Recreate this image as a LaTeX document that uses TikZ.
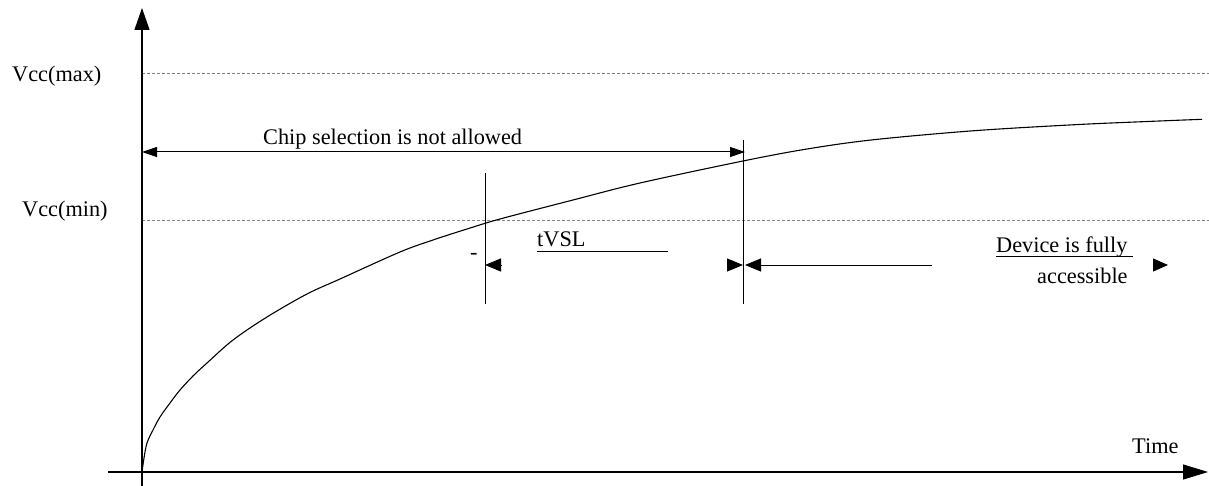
\documentclass[tikz,border=0pt]{standalone}
\usepackage{fontspec}
\setmainfont{Liberation Serif}
\usetikzlibrary{arrows.meta}
\begin{document}
\begin{tikzpicture}[x=1pt,y=-1pt,
  lbl/.style={inner sep=0pt,anchor=base west,font=\fontsize{22.3}{26}\selectfont},
  axis/.style={line width=1.2pt},
  thin/.style={line width=1pt},
  guide/.style={line width=0.9pt,gray,dash pattern=on 3pt off 2pt},
  bighead/.style={-{Triangle[length=22pt,width=15pt]}},
  midhead/.style={{Triangle[length=15pt,width=10pt]}-{Triangle[length=15pt,width=10pt]}},
  smallhead/.style={-{Triangle[length=16pt,width=13pt]}}]
\useasboundingbox (0,0) rectangle (1209,486);
% coordinates
\coordinate (ybot) at (142,486);
\coordinate (ytop) at (142,8);
\coordinate (xl) at (108,472);
\coordinate (xr) at (1208,472);
\coordinate (maxL) at (142,73);
\coordinate (maxR) at (1209,73);
\coordinate (minL) at (142,220);
\coordinate (minR) at (1209,220);
\coordinate (chipL) at (142,152);
\coordinate (chipR) at (745,152);
\coordinate (v1t) at (485,173);
\coordinate (v1b) at (485,304);
\coordinate (v2t) at (743,140);
\coordinate (v2b) at (743,304);
\coordinate (h1a) at (501,265);
\coordinate (h1b) at (485,265);
\coordinate (h2a) at (727,265);
\coordinate (h2b) at (743,265);
\coordinate (h3a) at (932,265);
\coordinate (h3b) at (745,265);
\coordinate (h4a) at (1153,265);
\coordinate (h4b) at (1168,265);
\coordinate (ulA) at (537,252);
\coordinate (ulB) at (668,252);
\coordinate (ul2A) at (996,257);
\coordinate (ul2B) at (1133,257);
% guides
\draw[guide] (maxL) -- (maxR);
\draw[guide] (minL) -- (minR);
% axes
\draw[axis,bighead] (ybot) -- (ytop);
\draw[axis,-{Triangle[length=25pt,width=15pt]}] (xl) -- (xr);
% curve
\draw[line width=1.1pt] plot[smooth,tension=0.55] coordinates {
 (142,472) (144,458) (147,443) (153,430) (160,417) (170,403) (180,390)
 (193,376) (207,363) (233,340) (267,317) (307,294) (340,279) (400,252)
 (433,240) (467,229) (500,219) (573,200) (640,183) (743,161) (807,149)
 (873,139.8) (973,130.8) (1073,124.8) (1140,121.8) (1202,119.3)};
% chip selection arrow
\draw[thin,midhead] (chipL) -- (chipR);
\node[lbl] (chip) at (263,145) {Chip selection is not allowed};
% verticals
\draw[thin] (v1t) -- (v1b);
\draw[thin] (v2t) -- (v2b);
% small arrows
\draw[thin,smallhead] (h1a) -- (h1b);
\draw[thin,smallhead] (h2a) -- (h2b);
\draw[thin,smallhead] (h3a) -- (h3b);
\draw[thin,-{Triangle[length=15pt,width=13pt]}] (h4a) -- (h4b);
% labels
\node[lbl] (vmax) at (12,82) {Vcc(max)};
\node[lbl] (vmin) at (22,217) {Vcc(min)};
\node[lbl] (dash) at (470,259) {-};
\node[lbl] (tvsl) at (537,247) {tVSL};
\draw[thin] (ulA) -- (ulB);
\node[lbl] (dev) at (996,253) {Device is fully};
\draw[thin] (ul2A) -- (ul2B);
\node[lbl] (acc) at (1037,283) {accessible};
\node[lbl] (time) at (1132,453) {Time};
\end{tikzpicture}
\end{document}
